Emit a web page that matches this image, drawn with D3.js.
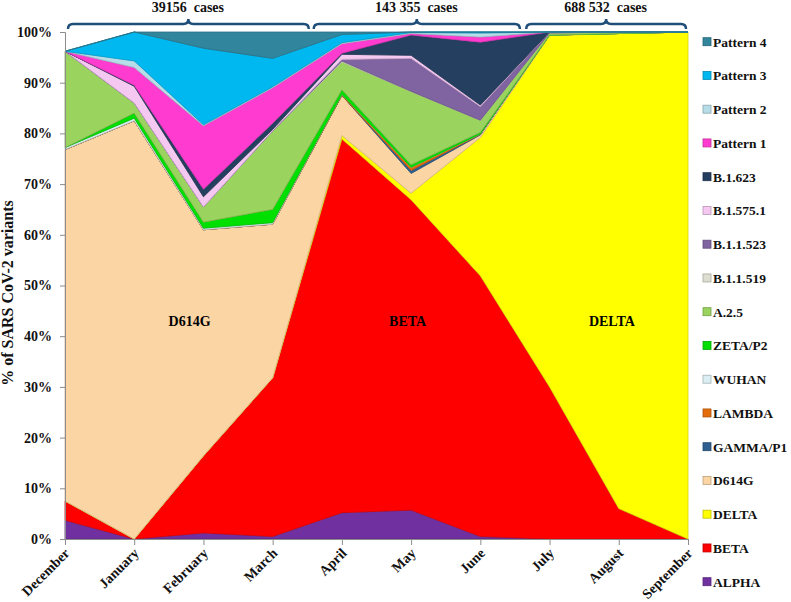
<!DOCTYPE html>
<html>
<head>
<meta charset="utf-8">
<script src="https://cdn.jsdelivr.net/npm/d3@7"></script>
<style>
  body { margin: 0; background: #fff; }
  text { font-family: "Liberation Serif", "Times New Roman", serif; font-weight: bold; }
</style>
</head>
<body>
<div id="plot"></div>
<script>
// months on the x axis
var months = ["December", "January", "February", "March", "April", "May", "June", "July", "August", "September"];

// variant shares in %, one array per variant (stack order bottom -> top)
var ALPHA    = [3.7, 0,   1.2,  0.5,  5.2,  5.7,  0.5,  0,    0,    0];
var BETA     = [3.8, 0,   15.2, 31.3, 73.7, 61.2, 51.4, 30.0, 6.0,  0];
var DELTA    = [0,   0,   0,    0,    0.7,  1.3,  27.3, 69.3, 93.7, 100];
var D614G    = [69.3, 82.5, 44.6, 30.3, 7.9, 3.9,  0.5,  0.1,  0,    0];
var GAMMA    = [0,   0,   0,    0,    0,    0.6,  0.1,  0,    0,    0];
var LAMBDA   = [0,   0,   0,    0,    0.2,  0.6,  0.1,  0,    0,    0];
var WUHAN    = [0.4, 0.5, 0.3,  0.3,  0,    0,    0,    0,    0,    0];
var ZETA     = [0,   1.0, 1.2,  2.6,  0.9,  0.5,  0.3,  0,    0,    0];
var A25      = [19.0, 2.0, 3.0, 15.5, 5.5,  14.5, 2.4,  0.4,  0.3,  0];
var B11519   = [0,   0,   0,    0,    0.2,  0,    0,    0,    0,    0];
var B11523   = [0,   0,   0,    0,    0.3,  6.5,  2.7,  0.2,  0,    0];
var B15751   = [0,   3.3, 2.0,  0.3,  1.0,  0.6,  0.3,  0,    0,    0];
var B1623    = [0,   0.2, 1.5,  1.2,  0.2,  4.0,  12.4, 0,    0,    0];
var PATTERN1 = [0,   3.5, 12.5, 7.0,  1.9,  0.3,  1.0,  0,    0,    0];
var PATTERN2 = [0,   1.3, 0.2,  0.2,  0.2,  0.2,  0.8,  0,    0,    0];
var PATTERN3 = [0,   5.7, 15.1, 5.6,  1.6,  0.1,  0.2,  0,    0,    0];
var PATTERN4 = [0,   0,   3.2,  5.2,  0.5,  0,    0,    0,    0,    0];

var names = ["ALPHA", "BETA", "DELTA", "D614G", "GAMMA/P1", "LAMBDA", "WUHAN", "ZETA/P2", "A.2.5",
  "B.1.1.519", "B.1.1.523", "B.1.575.1", "B.1.623", "Pattern 1", "Pattern 2", "Pattern 3", "Pattern 4"];
var series = [ALPHA, BETA, DELTA, D614G, GAMMA, LAMBDA, WUHAN, ZETA, A25,
  B11519, B11523, B15751, B1623, PATTERN1, PATTERN2, PATTERN3, PATTERN4];
var colors = ["#7030a0", "#ff0000", "#ffff00", "#fcd5a5", "#2e5f8f", "#e46c0a", "#daeef3", "#00e000", "#9bd35f",
  "#deded0", "#8064a2", "#f4c8f0", "#243f60", "#ff3ccf", "#b7dde8", "#00b8f0", "#31859c"];

// cases per period, shown over the braces
var periods = [
  { label: "39156  cases", from: 0, to: 3.55 },
  { label: "143 355  cases", from: 3.55, to: 6.6 },
  { label: "688 532  cases", from: 6.62, to: 9 }
];
var areaLabels = [
  { text: "D614G", m: 1.8, v: 0.42 },
  { text: "BETA", m: 4.95, v: 0.42 },
  { text: "DELTA", m: 7.9, v: 0.42 }
];

var W = 791, H = 602;
var svg = d3.select("#plot").append("svg")
  .attr("width", W)
  .attr("height", H);

var x = d3.scalePoint().domain(months).range([65, 688]);
var xi = d3.scaleLinear().domain([0, months.length - 1]).range([65, 688]);
var y = d3.scaleLinear().domain([0, 1]).range([539, 32]);

// rows for d3.stack
var rows = months.map(function (m, i) {
  var r = { month: m };
  names.forEach(function (n, k) { r[n] = series[k][i] / 100; });
  return r;
});
var layers = d3.stack().keys(names)(rows);

var area = d3.area()
  .x(function (d) { return x(d.data.month); })
  .y0(function (d) { return y(d[0]); })
  .y1(function (d) { return y(d[1]); });

svg.append("g")
  .selectAll("path")
  .data(layers)
  .enter()
  .append("path")
  .attr("d", area)
  .style("fill", function (d, i) { return colors[i]; })
  .style("stroke", function (d, i) { return d3.color(colors[i]).darker(0.5); })
  .style("stroke-width", 0.8)
  .style("stroke-linejoin", "round");

// axes
var yAxis = svg.append("g")
  .attr("transform", "translate(65,0)")
  .call(d3.axisLeft(y).tickValues(d3.range(0, 1.01, 0.1)).tickFormat(d3.format(".0%")).tickSize(5).tickPadding(8));
yAxis.selectAll("text").style("font-size", "14px").style("fill", "#111");

var xAxis = svg.append("g")
  .attr("transform", "translate(0,539)")
  .call(d3.axisBottom(x).tickSize(6));
xAxis.selectAll("text")
  .style("font-size", "14px")
  .style("fill", "#111")
  .attr("text-anchor", "end")
  .attr("dy", null)
  .attr("y", 0)
  .attr("transform", "translate(5,15) rotate(-45)");
svg.selectAll(".domain, .tick line").style("stroke", "#8c8c8c");

// y title
svg.append("text")
  .attr("transform", "translate(13,293) rotate(-90)")
  .attr("text-anchor", "middle")
  .style("font-size", "16px")
  .style("fill", "#111")
  .text("% of SARS CoV-2 variants");

// labels on the areas
svg.append("g")
  .selectAll("text")
  .data(areaLabels)
  .enter()
  .append("text")
  .attr("x", function (d) { return xi(d.m); })
  .attr("y", function (d) { return y(d.v); })
  .attr("text-anchor", "middle")
  .style("font-size", "14px")
  .text(function (d) { return d.text; });

// braces with case counts
function brace(x1, x2, yb) {
  var xm = (x1 + x2) / 2;
  return "M" + x1 + "," + (yb + 5) + " Q" + x1 + "," + yb + " " + (x1 + 5) + "," + yb +
    " L" + (xm - 5) + "," + yb + " Q" + xm + "," + yb + " " + xm + "," + (yb - 5) +
    " Q" + xm + "," + yb + " " + (xm + 5) + "," + yb +
    " L" + (x2 - 5) + "," + yb + " Q" + x2 + "," + yb + " " + x2 + "," + (yb + 5);
}
var br = svg.append("g").selectAll("g").data(periods).enter().append("g");
br.append("path")
  .attr("d", function (d) { return brace(xi(d.from) + 3, xi(d.to) - 2, 24); })
  .style("fill", "none")
  .style("stroke", "#1f4e79")
  .style("stroke-width", 2.5);
br.append("text")
  .attr("x", function (d) { return (xi(d.from) + xi(d.to)) / 2; })
  .attr("y", 12)
  .attr("text-anchor", "middle")
  .style("font-size", "14px")
  .style("white-space", "pre")
  .style("fill", "#111")
  .text(function (d) { return d.label; });

// legend, top entry is the last series
var legend = svg.append("g")
  .selectAll("g")
  .data(names.slice().reverse())
  .enter()
  .append("g")
  .attr("transform", function (d, i) { return "translate(703," + (41.7 + i * 33.75) + ")"; });
legend.append("rect")
  .attr("x", 0).attr("y", -4)
  .attr("width", 8).attr("height", 8)
  .style("fill", function (d) { return colors[names.indexOf(d)]; })
  .style("stroke", function (d) { return d3.color(colors[names.indexOf(d)]).darker(0.8); })
  .style("stroke-width", 0.8);
legend.append("text")
  .attr("x", 10).attr("y", 5)
  .style("font-size", "13.5px")
  .style("fill", "#111")
  .text(function (d) { return d; });
</script>
</body>
</html>
